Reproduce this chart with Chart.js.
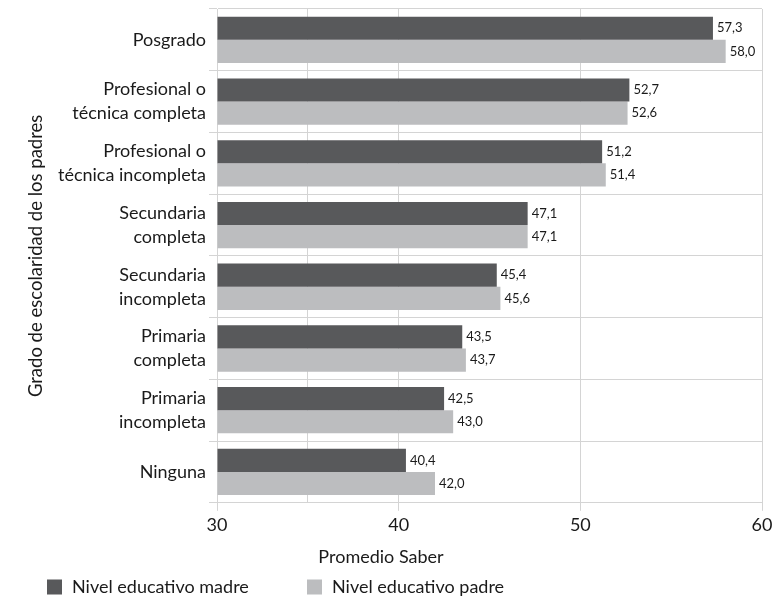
<!DOCTYPE html>
<html lang="es">
<head>
    <meta charset="UTF-8">
    <title>Promedio Saber según escolaridad de los padres</title>
    <script src="https://cdn.jsdelivr.net/npm/chart.js@4.4.0/dist/chart.umd.min.js"></script>
    <style>
        html, body {
            margin: 0;
            padding: 0;
            background: #ffffff;
        }
        .chart-container {
            position: relative;
            width: 778px;
            height: 599px;
        }
    </style>
</head>
<body>
    <div class="chart-container">
        <canvas id="chart"></canvas>
    </div>

    <script>
        // Categorías (de arriba hacia abajo)
        const niveles = [
            'Posgrado',
            ['Profesional o', 'técnica completa'],
            ['Profesional o', 'técnica incompleta'],
            ['Secundaria', 'completa'],
            ['Secundaria', 'incompleta'],
            ['Primaria', 'completa'],
            ['Primaria', 'incompleta'],
            'Ninguna'
        ];

        // Promedio Saber por nivel educativo
        const madre = [57.3, 52.7, 51.2, 47.1, 45.4, 43.5, 42.5, 40.4];
        const padre = [58.0, 52.6, 51.4, 47.1, 45.6, 43.7, 43.0, 42.0];

        // Eje x
        const ejeMin = 30;
        const ejeMax = 60;
        const pasoEje = 5;

        const FONT = "Lato, 'Open Sans', sans-serif";
        const TEXT = '#1a1a1a';
        const GRID = '#d4d4d4';

        // Etiquetas de valor al final de cada barra (coma decimal)
        const valueLabels = {
            id: 'valueLabels',
            afterDatasetsDraw(chart) {
                const ctx = chart.ctx;
                ctx.save();
                ctx.font = '13px ' + FONT;
                ctx.fillStyle = TEXT;
                ctx.textAlign = 'left';
                ctx.textBaseline = 'middle';
                chart.data.datasets.forEach((ds, i) => {
                    chart.getDatasetMeta(i).data.forEach((bar, j) => {
                        const txt = ds.data[j].toFixed(1).replace('.', ',');
                        ctx.fillText(txt, bar.x + 4, bar.y);
                    });
                });
                ctx.restore();
            }
        };

        // Leyenda al pie, alineada a la izquierda
        const leyenda = {
            id: 'leyenda',
            afterDraw(chart) {
                const ctx = chart.ctx;
                const y = chart.height - 12;
                const xs = [47, 307];
                ctx.save();
                ctx.font = '18px ' + FONT;
                ctx.textAlign = 'left';
                ctx.textBaseline = 'middle';
                chart.data.datasets.forEach((ds, i) => {
                    ctx.fillStyle = ds.backgroundColor;
                    ctx.fillRect(xs[i], y - 7.5, 15, 15);
                    ctx.fillStyle = TEXT;
                    ctx.fillText(ds.label, xs[i] + 25, y);
                });
                ctx.restore();
            }
        };

        const ctx = document.getElementById('chart').getContext('2d');
        new Chart(ctx, {
            type: 'bar',
            data: {
                labels: niveles,
                datasets: [
                    {
                        label: 'Nivel educativo madre',
                        data: madre,
                        base: ejeMin,
                        backgroundColor: '#58595b',
                        categoryPercentage: 0.75,
                        barPercentage: 1.0
                    },
                    {
                        label: 'Nivel educativo padre',
                        data: padre,
                        base: ejeMin,
                        backgroundColor: '#bcbdbf',
                        categoryPercentage: 0.75,
                        barPercentage: 1.0
                    }
                ]
            },
            options: {
                indexAxis: 'y',
                responsive: true,
                maintainAspectRatio: false,
                animation: false,
                layout: {
                    padding: { top: 9, right: 16, bottom: 29, left: 0 }
                },
                scales: {
                    x: {
                        min: ejeMin,
                        max: ejeMax,
                        ticks: {
                            stepSize: pasoEje,
                            padding: 4,
                            color: TEXT,
                            font: { family: FONT, size: 18 },
                            callback: v => (v % 10 === 0 ? v : '')
                        },
                        grid: {
                            color: c => (c.tick && (c.tick.value === 45 || c.tick.value === 55) ? 'rgba(0,0,0,0)' : GRID),
                            tickColor: c => (c.tick && c.tick.value % 10 === 0 ? GRID : 'rgba(0,0,0,0)'),
                            tickLength: 8
                        },
                        border: { color: GRID }
                    },
                    y: {
                        afterFit: scale => {
                            scale.width = 217;
                            scale.paddingTop = 0;
                            scale.paddingBottom = 0;
                        },
                        ticks: {
                            color: TEXT,
                            padding: 3,
                            font: { family: FONT, size: 18, lineHeight: 1.33 }
                        },
                        grid: {
                            color: GRID,
                            tickLength: 8
                        },
                        border: { color: GRID },
                        title: {
                            display: true,
                            text: 'Grado de escolaridad de los padres',
                            color: TEXT,
                            font: { family: FONT, size: 18.5 },
                            padding: { top: 25, bottom: 0 }
                        }
                    }
                },
                plugins: {
                    title: {
                        display: true,
                        position: 'bottom',
                        text: 'Promedio Saber',
                        color: TEXT,
                        font: { family: FONT, size: 18, weight: 'normal' },
                        padding: { top: 6, bottom: 2 }
                    },
                    legend: { display: false },
                    tooltip: { enabled: false }
                }
            },
            plugins: [valueLabels, leyenda]
        });
    </script>
</body>
</html>
